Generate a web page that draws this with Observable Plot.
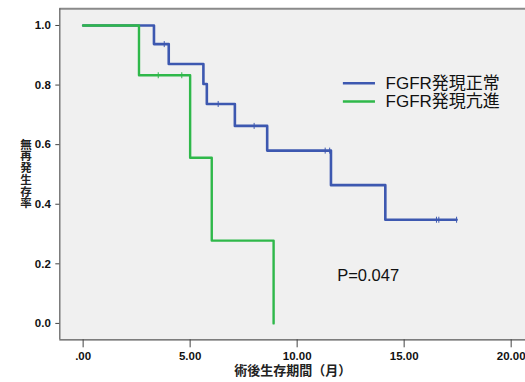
<!DOCTYPE html>
<html>
<head>
<meta charset="utf-8">
<script src="https://cdn.jsdelivr.net/npm/d3@7"></script>
<script src="https://cdn.jsdelivr.net/npm/@observablehq/plot@0.6"></script>
<style>
  html, body { margin: 0; padding: 0; background: #ffffff; overflow: hidden; }
</style>
</head>
<body>
<div id="chart"></div>
<script>
// Series names
const seriesNames = ["FGFR発現正常", "FGFR発現亢進"];
// FGFR発現正常 (blue): event times and survival
const blueTimes = [0, 3.31, 4.0, 5.62, 5.78, 7.09, 8.6, 11.58, 14.12, 17.45];
const blueSurv  = [1.0, 0.9375, 0.8705, 0.8036, 0.7366, 0.663, 0.580, 0.464, 0.348, 0.348];
// censored (blue)
const blueCensTimes = [3.79, 6.31, 7.99, 11.31, 11.52, 16.51, 16.62, 17.45];
const blueCensSurv  = [0.9375, 0.7366, 0.663, 0.580, 0.580, 0.348, 0.348, 0.348];
// FGFR発現亢進 (green)
const greenTimes = [0, 2.61, 5.0, 6.01, 8.9];
const greenSurv  = [1.0, 0.833, 0.556, 0.278, 0.0];
const greenCensTimes = [3.51, 4.61];
const greenCensSurv  = [0.833, 0.833];
// ticks
const xTicks = [0, 5, 10, 15, 20];
const yTicks = [0, 0.2, 0.4, 0.6, 0.8, 1.0];
const pText = "P=0.047";
const xTitle = "術後生存期間（月）";
const yTitle = "無再発生存率";

const BLUE = "#3d58b0";
const GREEN = "#2fb84a";
const FONT = "'Liberation Sans', Arial, 'Noto Sans CJK JP', sans-serif";

const xDomain = [-1.09, 20.67];
const yDomain = [-0.055, 1.056];

const blue = blueTimes.map((t, i) => ({t, s: blueSurv[i]}));
const green = greenTimes.map((t, i) => ({t, s: greenSurv[i]}));
const blueC = blueCensTimes.map((t, i) => ({t, s: blueCensSurv[i]}));
const greenC = greenCensTimes.map((t, i) => ({t, s: greenCensSurv[i]}));

const vbar = {
  draw(context, size) {
    const h = Math.sqrt(size / Math.PI);
    context.moveTo(0, -h);
    context.lineTo(0, h);
  }
};

// legend layout (in data space)
const legend = [
  {name: seriesNames[0], color: BLUE, y: 0.806},
  {name: seriesNames[1], color: GREEN, y: 0.745}
];
const legX1 = 12.16, legX2 = 13.66, legTX = 14.13;

const chart = Plot.plot({
  width: 525,
  height: 382,
  marginTop: 8.3,
  marginBottom: 42.7,
  marginLeft: 59.3,
  marginRight: 0,
  style: {fontFamily: FONT, background: "#ffffff", overflow: "hidden"},
  x: {domain: xDomain, label: null},
  y: {domain: yDomain, label: null},
  marks: [
    Plot.frame({fill: "#f0f0f0", stroke: null}),
    Plot.ruleY([yDomain[1]], {stroke: "#8a8a8a", strokeWidth: 2}),
    Plot.ruleX([xDomain[0]], {stroke: "#666", strokeWidth: 1.3}),
    Plot.ruleY([yDomain[0]], {stroke: "#555", strokeWidth: 1.3}),
    Plot.axisX({
      ticks: xTicks, tickSize: 8, tickPadding: 4,
      tickFormat: d => d3.format(".2f")(d).replace(/^0\./, "."),
      fontWeight: "bold", fontSize: 11.5, stroke: "#444", fill: "#111", label: null
    }),
    Plot.axisY({
      ticks: yTicks, tickSize: 4, tickPadding: 5,
      tickFormat: ".1f",
      fontWeight: "bold", fontSize: 11.5, stroke: "#444", fill: "#111", label: null
    }),
    Plot.line(blue, {x: "t", y: "s", curve: "step-after", stroke: BLUE, strokeWidth: 2.6}),
    Plot.dot(blueC, {x: "t", y: "s", symbol: vbar, r: 3, stroke: BLUE, strokeWidth: 1, fill: "none"}),
    Plot.line(green, {x: "t", y: "s", curve: "step-after", stroke: GREEN, strokeWidth: 2.4}),
    Plot.dot(greenC, {x: "t", y: "s", symbol: vbar, r: 3, stroke: GREEN, strokeWidth: 1, fill: "none"}),
    Plot.ruleY(legend, {y: "y", x1: legX1, x2: legX2, stroke: "color", strokeWidth: 2.6}),
    Plot.text(legend, {x: legTX, y: "y", text: "name", textAnchor: "start", fontSize: 17, fill: "#111"}),
    Plot.text([pText], {x: 11.87, y: 0.161, textAnchor: "start", fontSize: 16.5, fill: "#111"}),
    Plot.text([xTitle], {frameAnchor: "bottom", dy: 35, fontWeight: "bold", fontSize: 13, fill: "#222"}),
    Plot.text([yTitle.split("").join("\n")], {frameAnchor: "left", dx: -39.5, fontWeight: "bold", fontSize: 11.5, lineHeight: 1.02, fill: "#222"})
  ]
});
document.getElementById("chart").appendChild(chart);
</script>
</body>
</html>
